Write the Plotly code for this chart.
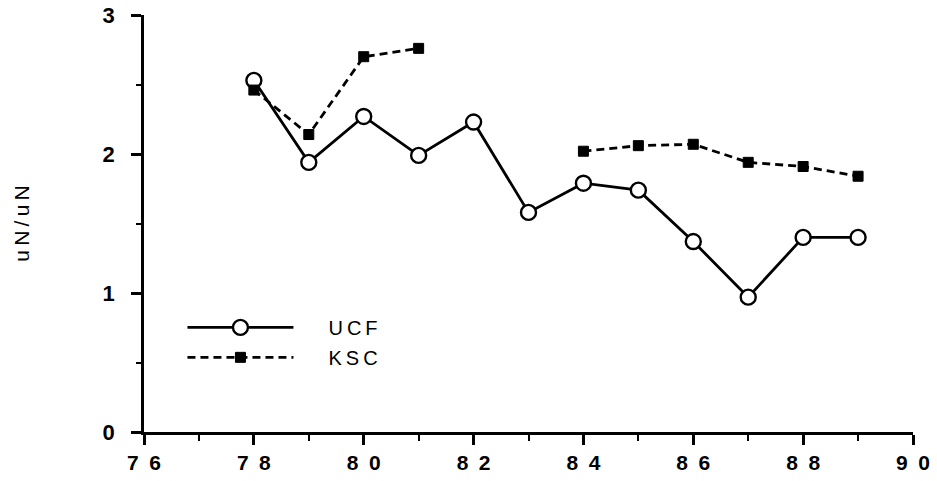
import plotly.graph_objects as go

years = [78, 79, 80, 81, 82, 83, 84, 85, 86, 87, 88, 89]
ucf = [2.53, 1.94, 2.27, 1.99, 2.23, 1.58, 1.79, 1.74, 1.37, 0.97, 1.40, 1.40]
ksc = [2.46, 2.14, 2.70, 2.76, None, None, 2.02, 2.06, 2.07, 1.94, 1.91, 1.84]

x_tickvals = [76, 78, 80, 82, 84, 86, 88, 90]
x_ticktext = ["7\u20026", "7\u20028", "8\u20020", "8\u20022", "8\u20024", "8\u20026", "8\u20028", "9\u20020"]
y_tickvals = [0, 1, 2, 3]
y_ticktext = ["0", "1", "2", "3"]

series_names = ["\u2003\u2002U\u2009C\u2009F", "\u2003\u2002K\u2009S\u2009C"]
y_title = "u\u2009N\u2009/\u2009u\u2009N"

FONT = "Liberation Sans, Arial, sans-serif"

fig = go.Figure()
fig.add_trace(go.Scatter(
    x=years, y=ucf, name=series_names[0], mode="lines+markers",
    line=dict(color="black", width=2.8),
    marker=dict(symbol="circle", size=15, color="white", line=dict(color="black", width=2.4)),
    legendgroup="a",
))
fig.add_trace(go.Scatter(
    x=years, y=ksc, name=series_names[1], mode="lines+markers",
    line=dict(color="black", width=2.8, dash="8px,5px"),
    marker=dict(symbol="square", size=10, color="black", line=dict(color="black", width=1)),
    connectgaps=False,
    legendgroup="b",
))

fig.update_layout(
    width=937, height=481,
    margin=dict(l=144, r=24, t=15, b=49, autoexpand=False),
    paper_bgcolor="white", plot_bgcolor="white",
    font=dict(family=FONT, color="black"),
    showlegend=True,
    legend=dict(
        x=0.05, y=0.215, xanchor="left", yanchor="middle",
        bgcolor="rgba(0,0,0,0)",
        font=dict(size=20, family=FONT, color="black"),
        itemwidth=106,
        tracegroupgap=1,
        traceorder="grouped",
    ),
    xaxis=dict(
        range=[76, 90], showgrid=False, zeroline=False, automargin=False,
        showline=True, linecolor="black", linewidth=2.8,
        tickmode="array", tickvals=x_tickvals, ticktext=x_ticktext,
        ticks="outside", ticklen=10, tickwidth=2.6, tickcolor="black",
        tickfont=dict(size=21, family=FONT, color="black", weight="bold"),
        ticklabelstandoff=0,
        minor=dict(dtick=1, tick0=76, ticks="outside", ticklen=6, tickwidth=2.2, tickcolor="black"),
    ),
    yaxis=dict(
        range=[0, 3], showgrid=False, zeroline=False, automargin=False,
        showline=True, linecolor="black", linewidth=2.8,
        tickmode="array", tickvals=y_tickvals, ticktext=y_ticktext,
        ticks="outside", ticklen=10, tickwidth=2.6, tickcolor="black",
        tickfont=dict(size=22, family=FONT, color="black", weight="bold"),
        ticklabelstandoff=12,
        minor=dict(dtick=0.5, tick0=0, ticks="outside", ticklen=5, tickwidth=2.2, tickcolor="black"),
        title=dict(text=y_title, font=dict(size=21, family=FONT, color="black"), standoff=68),
    ),
)

fig.write_html("out.html", config={"displayModeBar": False},
               post_script="document.body.style.margin='0';")
